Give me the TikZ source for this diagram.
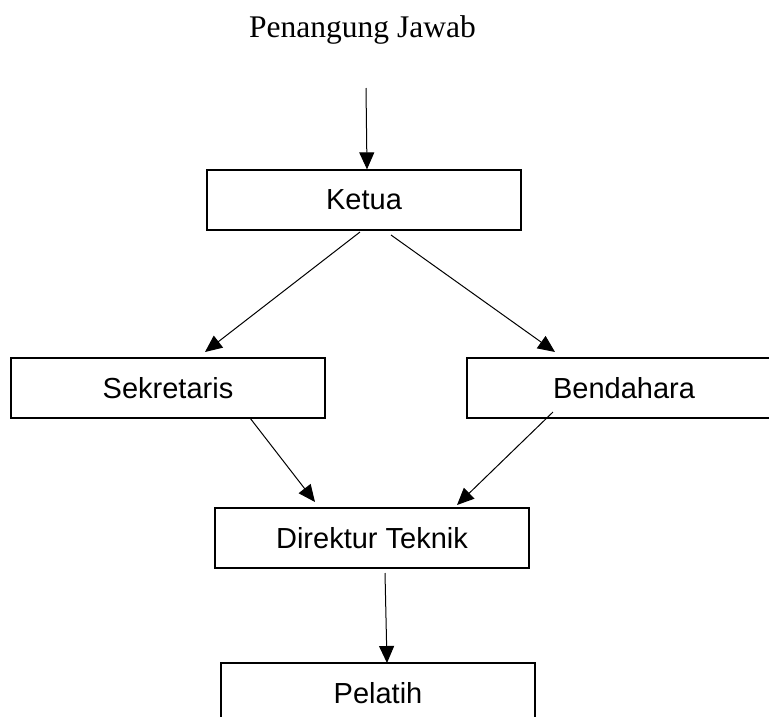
\documentclass[tikz,border=0pt]{standalone}
\usepackage{fontspec}
\setmainfont{Liberation Serif}
\newfontfamily\boxfont{Liberation Sans}
\usetikzlibrary{arrows.meta}
\tikzset{
  orgbox/.style={draw, line width=1.3pt, minimum width=314pt, minimum height=60pt, inner sep=0pt,
    font=\boxfont\fontsize{29}{34}\selectfont},
  conn/.style={line width=1pt, -{Triangle[length=17pt,width=15pt]}},
}
\begin{document}
\begin{tikzpicture}[x=1pt,y=-1pt]
\useasboundingbox[fill=white] (0,0) rectangle (769,716);
\node[anchor=base, font=\fontsize{31.5}{37}\selectfont, inner sep=0pt] (title) at (362.5,37) {Penangung Jawab};
\node[orgbox] (ketua) at (364,200) {Ketua};
\node[orgbox] (sek) at (168,388) {Sekretaris};
\node[orgbox] (bend) at (624,388) {Bendahara};
\node[orgbox] (dir) at (372,538) {Direktur Teknik};
\node[orgbox] (pel) at (378,693) {Pelatih};
\coordinate (top) at (366,88);
\coordinate (k1) at (360,232);
\coordinate (k2) at (391,235);
\coordinate (s1) at (205,352);
\coordinate (b1) at (555,352);
\coordinate (s2) at (250,418);
\coordinate (b2) at (553,412);
\coordinate (d1) at (315,502);
\coordinate (d2) at (457,505);
\coordinate (d3) at (385,573);
\coordinate (p1) at (387,663);
\draw[conn] (top) -- (ketua.north -| 367,0);
\draw[conn] (k1) -- (s1);
\draw[conn] (k2) -- (b1);
\draw[conn] (s2) -- (d1);
\draw[conn] (b2) -- (d2);
\draw[conn] (d3) -- (p1);
\end{tikzpicture}
\end{document}
